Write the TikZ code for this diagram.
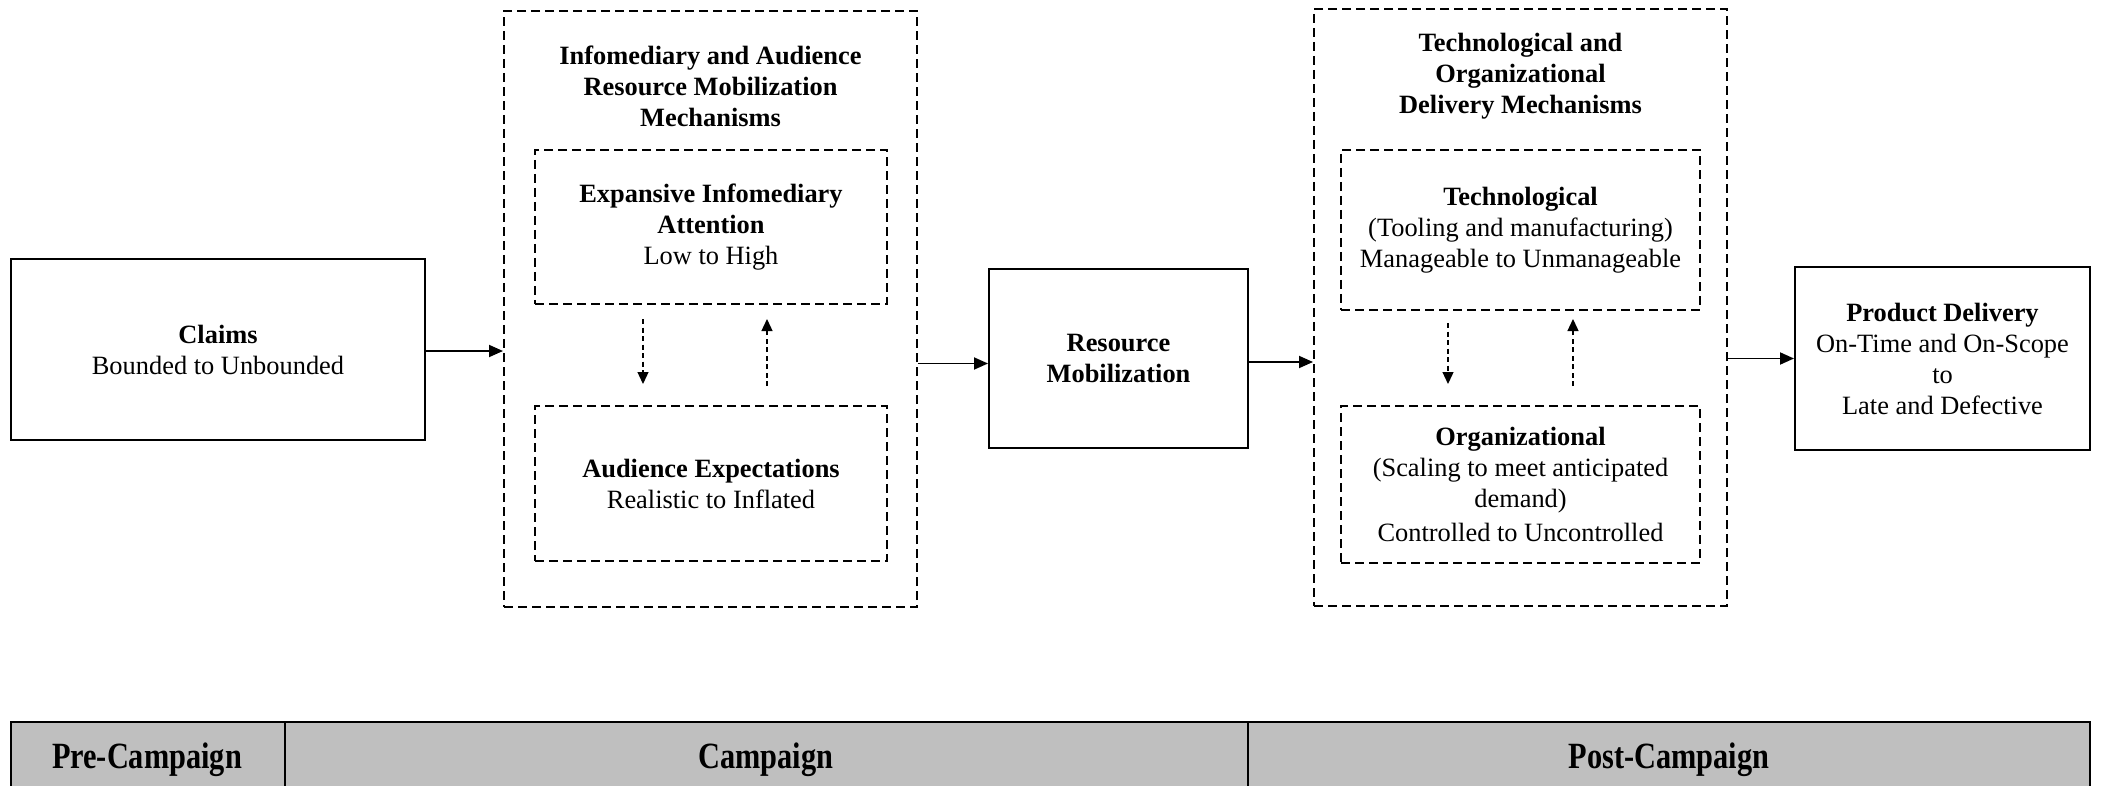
\documentclass[tikz,border=0pt]{standalone}
\usepackage{fontspec}
\setmainfont{Liberation Serif}
\usepackage{graphicx}
\usetikzlibrary{arrows.meta,calc}
\definecolor{barfill}{HTML}{BFBFBF}
\tikzset{
  solidbox/.style={draw, line width=2pt, rectangle, align=center, inner sep=0pt},
  dashbox/.style={draw, line width=2pt, dash pattern=on 9pt off 5pt, rectangle, align=center, inner sep=0pt},
  arr/.style={line width=1.8pt, -{Triangle[length=14pt,width=12pt]}},
  darr/.style={line width=1.3pt, dash pattern=on 5pt off 3.5pt, -{Triangle[length=12pt,width=11pt]}},
  titletext/.style={align=center, font=\bfseries},
  bartext/.style={anchor=base, font=\fontsize{37}{40}\selectfont\bfseries}
}
\begin{document}
\begin{tikzpicture}[x=1pt,y=-1pt]
\useasboundingbox (0,0) rectangle (2101,786);
\fontsize{26.4}{31}\selectfont
% main boxes
\node[solidbox, minimum width=414, minimum height=181] (claims) at (218,349.5)
  {\textbf{Claims}\\Bounded to Unbounded};
\node[dashbox, minimum width=413, minimum height=596] (lout) at (710.5,309) {};
\node[titletext] (ltitle) at (710.5,86) {Infomediary and Audience\\Resource Mobilization\\Mechanisms};
\node[dashbox, minimum width=352, minimum height=154] (in1) at (711,227)
  {\textbf{Expansive Infomediary}\\\textbf{Attention}\\Low to High};
\node[dashbox, minimum width=352, minimum height=155] (in2) at (711,483.5)
  {\textbf{Audience Expectations}\\Realistic to Inflated};
\node[solidbox, minimum width=259, minimum height=179] (rm) at (1118.5,358.5)
  {\textbf{Resource}\\\textbf{Mobilization}};
\node[dashbox, minimum width=413, minimum height=597] (rout) at (1520.5,307.5) {};
\node[titletext] (rtitle) at (1520.5,76) {Technological and\\Organizational\\Delivery Mechanisms};
\node[dashbox, minimum width=359, minimum height=160] (it) at (1520.5,230)
  {\textbf{Technological}\\(Tooling and manufacturing)\\Manageable to Unmanageable};
\node[dashbox, minimum width=359, minimum height=157] (io) at (1520.5,484.5)
  {\textbf{Organizational}\\(Scaling to meet anticipated\\demand)\\[3pt]Controlled to Uncontrolled};
\node[solidbox, minimum width=295, minimum height=183] (pd) at (1942.5,358.5)
  {\textbf{Product Delivery}\\On-Time and On-Scope\\to\\Late and Defective};
% connectors
\draw[arr] ([yshift=-1.5pt]claims.east) -- ([yshift=-1.5pt]claims.east -| lout.west);
\draw[arr] ([yshift=-5pt]lout.east |- rm.west) -- ([yshift=-5pt]rm.west);
\draw[arr] ([yshift=-3.5pt]rm.east) -- ([yshift=-3.5pt]rm.east -| rout.west);
\draw[arr] (rout.east |- pd.west) -- (pd.west);
% inner dashed arrows
\draw[darr] ($(in1.south)+(-68,14)$) -- ($(in2.north)+(-68,-21)$);
\draw[darr] ($(in2.north)+(56,-19)$) -- ($(in1.south)+(56,14)$);
\draw[darr] ($(it.south)+(-72.5,12)$) -- ($(io.north)+(-72.5,-21)$);
\draw[darr] ($(io.north)+(52.5,-19)$) -- ($(it.south)+(52.5,8)$);
% bottom bar
\fill[barfill] (11,722) rectangle (2090,800);
\draw[line width=2pt] (11,800) -- (11,722) -- (2090,722) -- (2090,800);
\draw[line width=2pt] (285,722) -- (285,800);
\draw[line width=2pt] (1248,722) -- (1248,800);
\node[bartext] (pre) at (147,768) {\scalebox{0.82}[1]{Pre-Campaign}};
\node[bartext] (camp) at (766,768) {\scalebox{0.82}[1]{Campaign}};
\node[bartext] (post) at (1669,768) {\scalebox{0.82}[1]{Post-Campaign}};
\end{tikzpicture}
\end{document}
